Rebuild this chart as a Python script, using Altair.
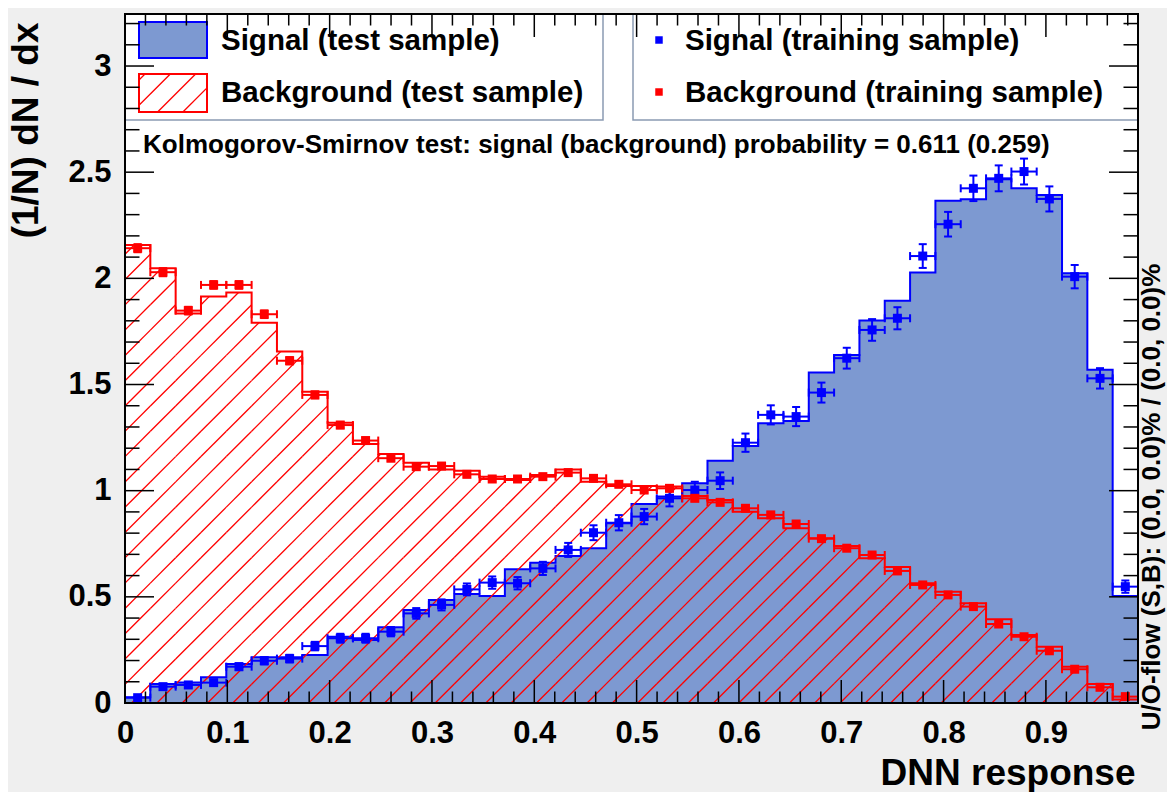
import altair as alt
import numpy as np
import pandas as pd

# ---------------- data ----------------
X_MIN, X_MAX = 0.0, 0.99
Y_MAX = 3.245
N_BINS = 40

sig_test = [0.027, 0.089, 0.096, 0.121, 0.184, 0.215, 0.215, 0.226, 0.312, 0.297,
            0.357, 0.438, 0.485, 0.513, 0.504, 0.630, 0.661, 0.692, 0.729, 0.846,
            0.937, 0.972, 1.035, 1.141, 1.210, 1.317, 1.328, 1.556, 1.639, 1.801,
            1.895, 2.027, 2.366, 2.372, 2.467, 2.424, 2.393, 2.024, 1.569, 0.504]

bkg_test = [2.157, 2.047, 1.835, 1.914, 1.933, 1.791, 1.655, 1.466, 1.320, 1.220,
            1.173, 1.132, 1.100, 1.094, 1.066, 1.050, 1.074, 1.100, 1.042, 1.022,
            1.022, 1.020, 0.975, 0.956, 0.901, 0.870, 0.823, 0.776, 0.740, 0.682,
            0.640, 0.564, 0.524, 0.470, 0.394, 0.320, 0.265, 0.171, 0.089, 0.017]

sig_train = [0.025, 0.077, 0.085, 0.096, 0.171, 0.199, 0.209, 0.268, 0.305, 0.305,
             0.336, 0.422, 0.462, 0.535, 0.567, 0.564, 0.634, 0.721, 0.802, 0.849,
             0.878, 0.964, 1.003, 1.047, 1.226, 1.357, 1.349, 1.462, 1.624, 1.757,
             1.812, 2.105, 2.255, 2.424, 2.471, 2.503, 2.374, 2.008, 1.529, 0.548]

sig_train_err = [0.006, 0.011, 0.011, 0.012, 0.016, 0.017, 0.018, 0.020, 0.021, 0.021,
                 0.022, 0.025, 0.026, 0.028, 0.029, 0.029, 0.031, 0.033, 0.035, 0.036,
                 0.036, 0.038, 0.039, 0.039, 0.043, 0.045, 0.045, 0.047, 0.049, 0.051,
                 0.052, 0.056, 0.058, 0.060, 0.061, 0.061, 0.059, 0.055, 0.048, 0.029]

bkg_train = [2.142, 2.029, 1.848, 1.969, 1.969, 1.831, 1.612, 1.451, 1.309, 1.236,
             1.153, 1.113, 1.116, 1.077, 1.055, 1.055, 1.066, 1.085, 1.058, 1.030,
             1.003, 1.011, 0.964, 0.945, 0.917, 0.886, 0.843, 0.774, 0.729, 0.697,
             0.622, 0.556, 0.509, 0.454, 0.372, 0.312, 0.246, 0.159, 0.074, 0.030]

bkg_train_err = [0.019, 0.019, 0.018, 0.018, 0.018, 0.018, 0.017, 0.016, 0.015, 0.014,
                 0.014, 0.014, 0.014, 0.013, 0.013, 0.013, 0.013, 0.014, 0.013, 0.013,
                 0.013, 0.013, 0.013, 0.013, 0.012, 0.012, 0.012, 0.011, 0.011, 0.011,
                 0.010, 0.010, 0.009, 0.009, 0.008, 0.007, 0.006, 0.005, 0.004, 0.002]

x_major = [0, 0.1, 0.2, 0.3, 0.4, 0.5, 0.6, 0.7, 0.8, 0.9]
x_minor = [0.02, 0.04, 0.06, 0.08, 0.12, 0.14, 0.16, 0.18, 0.22, 0.24, 0.26, 0.28,
           0.32, 0.34, 0.36, 0.38, 0.42, 0.44, 0.46, 0.48, 0.52, 0.54, 0.56, 0.58,
           0.62, 0.64, 0.66, 0.68, 0.72, 0.74, 0.76, 0.78, 0.82, 0.84, 0.86, 0.88,
           0.92, 0.94, 0.96, 0.98]
y_major = [0, 0.5, 1, 1.5, 2, 2.5, 3]
y_minor = [0.1, 0.2, 0.3, 0.4, 0.6, 0.7, 0.8, 0.9, 1.1, 1.2, 1.3, 1.4, 1.6, 1.7, 1.8,
           1.9, 2.1, 2.2, 2.3, 2.4, 2.6, 2.7, 2.8, 2.9, 3.1, 3.2]

leg_test = ["Signal (test sample)", "Background (test sample)"]
leg_train = ["Signal (training sample)", "Background (training sample)"]
ks_text = "Kolmogorov-Smirnov test: signal (background) probability = 0.611 (0.259)"
uo_text = "U/O-flow (S,B): (0.0, 0.0)% / (0.0, 0.0)%"
x_title = "DNN response"
y_title = "(1/N) dN / dx"

# ---------------- styling ----------------
W, H = 1013, 689
FONT = "Liberation Sans"
SIG_FILL = "#7d99d1"
BLUE = "#0000ff"
RED = "#ff0000"
LEG_STROKE = "#8a9ab2"

edges = np.linspace(X_MIN, X_MAX, N_BINS + 1)
bins = pd.DataFrame({
    "x0": edges[:-1], "x1": edges[1:], "xc": 0.5 * (edges[:-1] + edges[1:]),
    "sig": sig_test, "bkg": bkg_test,
    "sp": sig_train, "se": sig_train_err, "bp": bkg_train, "be": bkg_train_err,
})
bins["slo"] = bins.sp - bins.se
bins["shi"] = bins.sp + bins.se
bins["blo"] = bins.bp - bins.be
bins["bhi"] = bins.bp + bins.be

xs = alt.Scale(domain=[X_MIN, X_MAX], nice=False, zero=False)
ys = alt.Scale(domain=[0, Y_MAX], nice=False, zero=False)

area_sig = pd.DataFrame({"x": list(edges), "y": sig_test + [sig_test[-1]]})


def outline(vals):
    rows = [{"x": edges[0], "y": 0.0, "o": 0}]
    k = 1
    for i, v in enumerate(vals):
        rows.append({"x": edges[i], "y": v, "o": k}); k += 1
        rows.append({"x": edges[i + 1], "y": v, "o": k}); k += 1
    rows.append({"x": edges[-1], "y": 0.0, "o": k})
    return pd.DataFrame(rows)


out_sig = outline(sig_test)
out_bkg = outline(bkg_test)

# hatch lines for background histogram (45 degrees on screen)
px_per_x = W / X_MAX
px_per_y = H / Y_MAX
m = px_per_x / px_per_y
dx = 25.3 / px_per_x
hatch = []
c = 0.0065 - dx * np.ceil((Y_MAX / m) / dx + 1)
while c < X_MAX:
    for i in range(N_BINS):
        xa = max(edges[i], c)
        xb = min(edges[i + 1], c + bkg_test[i] / m)
        if xb > xa:
            hatch.append({"xa": xa, "ya": m * (xa - c), "xb": xb, "yb": m * (xb - c)})
    c += dx
hatch = pd.DataFrame(hatch)


def px2x(p):
    return p / px_per_x


def py2y(p):
    return Y_MAX - p / px_per_y


# hatch inside legend swatch (pixel box 14..82, 60..98)
sx0, sx1, sy0, sy1 = 14, 82, 60, 98
lh = []
cc = sx0 - (sy1 - sy0) + 6
while cc < sx1:
    xa = max(sx0, cc)
    xb = min(sx1, cc + (sy1 - sy0))
    if xb > xa:
        lh.append({"xa": px2x(xa), "ya": py2y(sy1 - (xa - cc)),
                   "xb": px2x(xb), "yb": py2y(sy1 - (xb - cc))})
    cc += 25.3
leg_hatch = pd.DataFrame(lh)

one = pd.DataFrame({"k": [0]})

# ---------------- layers ----------------
base = alt.Chart(bins)

x_axis = alt.Axis(values=x_major, format="~g", ticks=False, domain=False, grid=False,
                  labelFlush=False, labelOverlap=False,
                  labelFont=FONT, labelFontSize=31, labelFontWeight="bold", labelColor="black",
                  labelPadding=15, title=x_title, titleFont=FONT, titleFontSize=37,
                  titleFontWeight="bold", titleColor="black", titleX=1010, titleY=81,
                  titleAlign="right", titleBaseline="alphabetic")
y_axis = alt.Axis(values=y_major, format="~g", ticks=False, domain=False, grid=False,
                  labelFlush=False, labelOverlap=False,
                  labelFont=FONT, labelFontSize=31, labelFontWeight="bold", labelColor="black",
                  labelPadding=14, title=y_title, titleFont=FONT, titleFontSize=37,
                  titleFontWeight="bold", titleColor="black", titleX=-99, titleY=8,
                  titleAngle=270, titleAlign="right", titleBaseline="middle")

sig_area = alt.Chart(area_sig).mark_area(interpolate="step-after", color=SIG_FILL, opacity=1).encode(
    x=alt.X("x:Q", scale=xs, axis=x_axis),
    y=alt.Y("y:Q", scale=ys, axis=y_axis),
)
sig_line = alt.Chart(out_sig).mark_line(color=BLUE, strokeWidth=2).encode(
    x="x:Q", y="y:Q", order="o:Q")

bkg_hatch = alt.Chart(hatch).mark_rule(color=RED, strokeWidth=1.3).encode(
    x="xa:Q", y="ya:Q", x2="xb:Q", y2="yb:Q")
bkg_line = alt.Chart(out_bkg).mark_line(color=RED, strokeWidth=2).encode(
    x="x:Q", y="y:Q", order="o:Q")


def points(col, lo, hi, color):
    h = base.mark_rule(color=color, strokeWidth=2).encode(x="x0:Q", x2="x1:Q", y=f"{col}:Q")
    v = base.mark_rule(color=color, strokeWidth=2).encode(x="xc:Q", y=f"{lo}:Q", y2=f"{hi}:Q")
    c1 = base.mark_rule(color=color, strokeWidth=2, yOffset=-4, y2Offset=4).encode(
        x="x0:Q", y=f"{col}:Q", y2=f"{col}:Q")
    c2 = base.mark_rule(color=color, strokeWidth=2, yOffset=-4, y2Offset=4).encode(
        x="x1:Q", y=f"{col}:Q", y2=f"{col}:Q")
    c3 = base.mark_rule(color=color, strokeWidth=2, xOffset=-4, x2Offset=4).encode(
        x="xc:Q", x2="xc:Q", y=f"{lo}:Q")
    c4 = base.mark_rule(color=color, strokeWidth=2, xOffset=-4, x2Offset=4).encode(
        x="xc:Q", x2="xc:Q", y=f"{hi}:Q")
    mk = base.mark_square(color=color, size=81, opacity=1).encode(x="xc:Q", y=f"{col}:Q")
    return [h, v, c1, c2, c3, c4, mk]


sig_pts = points("sp", "slo", "shi", BLUE)
bkg_pts = points("bp", "blo", "bhi", RED)


def box(x0, x1, y0, y1, fill, stroke, sw=1.5):
    return alt.Chart(one).mark_rect(fill=fill, stroke=stroke, strokeWidth=sw).encode(
        x=alt.value(x0), x2=alt.value(x1), y=alt.value(y0), y2=alt.value(y1))


leg_box1 = box(0, 478, 0, 106, "white", LEG_STROKE)
leg_box2 = box(508, W, 0, 106, "white", LEG_STROKE)
sw1 = box(14, 82, 8, 44, SIG_FILL, BLUE, 2)
sw2 = box(14, 82, 60, 98, "white", RED, 2)
sw2_hatch = alt.Chart(leg_hatch).mark_rule(color=RED, strokeWidth=1.3).encode(
    x="xa:Q", y="ya:Q", x2="xb:Q", y2="yb:Q")


def label(text, x, y, size, align="left", baseline="alphabetic", angle=0):
    return alt.Chart(pd.DataFrame({"t": [text]})).mark_text(
        font=FONT, fontSize=size, fontWeight="bold", color="black", align=align,
        baseline=baseline, angle=angle).encode(x=alt.value(x), y=alt.value(y), text="t:N")


t1 = label(leg_test[0], 96, 36, 29.5)
t2 = label(leg_test[1], 96, 88, 29.5)
t3 = label(leg_train[0], 560, 36, 29.5)
t4 = label(leg_train[1], 560, 88, 29.5)
m1 = alt.Chart(one).mark_square(color=BLUE, size=56, opacity=1).encode(x=alt.value(534), y=alt.value(26))
m2 = alt.Chart(one).mark_square(color=RED, size=56, opacity=1).encode(x=alt.value(534), y=alt.value(78))
ks = label(ks_text, 18, 139, 26)
uo = label(uo_text, 1027, 483, 26, align="center", baseline="middle", angle=270)


def xticks(vals, length):
    d = pd.DataFrame({"v": vals})
    bot = alt.Chart(d).mark_rule(color="black", strokeWidth=1.5).encode(
        x="v:Q", y=alt.value(H), y2=alt.value(H - length))
    top = alt.Chart(d).mark_rule(color="black", strokeWidth=1.5).encode(
        x="v:Q", y=alt.value(0), y2=alt.value(length))
    return [bot, top]


def yticks(vals, length):
    d = pd.DataFrame({"v": vals})
    left = alt.Chart(d).mark_rule(color="black", strokeWidth=1.5).encode(
        y="v:Q", x=alt.value(0), x2=alt.value(length))
    right = alt.Chart(d).mark_rule(color="black", strokeWidth=1.5).encode(
        y="v:Q", x=alt.value(W), x2=alt.value(W - length))
    return [left, right]


ticks = xticks(x_major, 23) + xticks(x_minor, 11.5) + yticks(y_major, 29) + yticks(y_minor, 14.5)
frame = alt.Chart(one).mark_rect(fill=None, stroke="black", strokeWidth=2, fillOpacity=0).encode(
    x=alt.value(0), x2=alt.value(W), y=alt.value(0), y2=alt.value(H))

layers = [sig_area, sig_line, bkg_hatch, bkg_line] + sig_pts + bkg_pts + [
    leg_box1, leg_box2, sw1, sw2, sw2_hatch, t1, t2, t3, t4, m1, m2, ks, uo] + ticks + [frame]

chart = alt.layer(*layers).properties(
    width=W, height=H, background="#efefef",
    padding={"left": 117, "top": 6, "right": 29, "bottom": 89},
    autosize=alt.AutoSizeParams(type="none"),
).configure_view(stroke=None, fill="white")

chart.save("out.html", embed_options={"renderer": "svg", "actions": False})
